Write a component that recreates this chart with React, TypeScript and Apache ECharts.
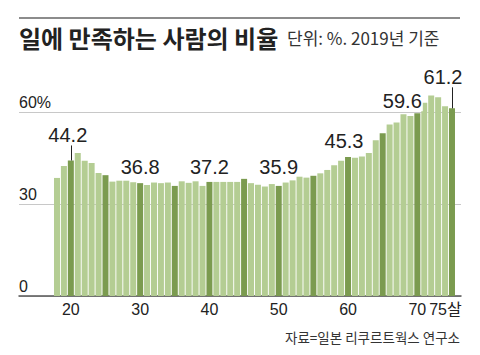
import React, { useEffect, useRef } from "react";
import * as echarts from "echarts";

const ages = [
  18, 19, 20, 21, 22, 23, 24, 25, 26, 27, 28, 29, 30, 31, 32, 33, 34, 35, 36, 37,
  38, 39, 40, 41, 42, 43, 44, 45, 46, 47, 48, 49, 50, 51, 52, 53, 54, 55, 56, 57,
  58, 59, 60, 61, 62, 63, 64, 65, 66, 67, 68, 69, 70, 71, 72, 73, 74, 75,
];
const values = [
  38.5, 42.4, 44.2, 46.6, 44.1, 43.4, 40.1, 39.4, 37.3, 37.6, 37.6, 37.1, 36.8, 36.2, 37.0, 36.8, 37.0, 35.9, 37.4, 36.9,
  37.4, 35.9, 37.2, 37.2, 37.2, 37.2, 37.2, 38.2, 36.8, 36.3, 35.7, 36.5, 35.9, 37.0, 37.7, 38.9, 38.6, 39.2, 40.0, 41.1,
  42.6, 44.1, 45.3, 45.1, 45.5, 46.6, 50.8, 53.1, 55.9, 56.6, 59.3, 58.7, 59.6, 63.0, 65.4, 64.8, 61.9, 61.2,
];
const highlightAges = [20, 25, 30, 35, 40, 45, 50, 55, 60, 65, 70, 75];
const labeledAges = [20, 30, 40, 50, 60, 70, 75];
const tickedAges = [20, 75];
const xTickValues = [20, 30, 40, 50, 60, 70, 75];
const yTickLabels = ["0", "30", "60%"];

const titleText = "일에 만족하는 사람의 비율";
const subtitleText = "단위: %. 2019년 기준";
const sourceText = "자료=일본 리쿠르트웍스 연구소";

const LIGHT = "#b4cd93";
const DARK = "#7b9b4f";
const TEXT = "#222";
const LATIN = "'Liberation Sans', Arial, 'Noto Sans CJK KR', sans-serif";
const KR = "'Noto Sans CJK KR', 'Liberation Sans', sans-serif";

const Y_MAX = 90;
const GRID_TOP = 20;
const GRID_BOTTOM = 59;
const PLOT_H = 355 - GRID_TOP - GRID_BOTTOM;
const PX_PER_UNIT = PLOT_H / Y_MAX;

// label placement styles per labeled age (distance above bar, horizontal shift)
const labelStyle: Record<number, { distance: number; dx: number }> = {
  20: { distance: 15, dx: -3 },
  30: { distance: 6, dx: 0 },
  40: { distance: 5, dx: 0 },
  50: { distance: 9, dx: 0 },
  60: { distance: 6, dx: -4 },
  70: { distance: 2, dx: -15 },
  75: { distance: 21, dx: -9 },
};

export default function App() {
  const ref = useRef<HTMLDivElement>(null);
  useEffect(() => {
    if (!ref.current) return;
    const chart = echarts.init(ref.current, undefined, { renderer: "svg" });

    const data = ages.map((a, i) => {
      const item: any = {
        value: [a, values[i]],
        itemStyle: { color: highlightAges.includes(a) ? DARK : LIGHT },
      };
      if (labeledAges.includes(a)) {
        const s = labelStyle[a];
        item.label = {
          show: true,
          position: "top",
          distance: s.distance,
          offset: [s.dx, 0],
          backgroundColor: a === 70 ? "#fff" : "transparent",
          padding: a === 70 ? [0, 1, 0, 1] : 0,
        };
      }
      return item;
    });

    const tickLines = tickedAges.map((a) => {
      const v = values[ages.indexOf(a)];
      const d = labelStyle[a].distance;
      return [{ coord: [a, v] }, { coord: [a, v + d / PX_PER_UNIT] }];
    });

    chart.setOption({
      animation: false,
      backgroundColor: "#fff",
      grid: {
        left: 19,
        right: 19,
        top: GRID_TOP,
        bottom: GRID_BOTTOM,
        containLabel: false,
        outerBoundsMode: "none",
      },
      xAxis: {
        type: "value",
        min: 12.52,
        max: 76.3,
        splitLine: { show: false },
        axisTick: { show: false },
        axisLine: { show: true, lineStyle: { color: "#555", width: 1.5 } },
        axisLabel: {
          customValues: xTickValues,
          margin: 5,
          color: TEXT,
          fontSize: 16,
          fontFamily: LATIN,
          formatter: (v: number) => (v === 75 ? "{a|75살}" : String(v)),
          rich: {
            a: {
              fontSize: 16,
              fontFamily: LATIN,
              color: TEXT,
              padding: [0, 13, 0, 0],
            },
          },
        },
      },
      yAxis: {
        type: "value",
        min: 0,
        max: Y_MAX,
        interval: 30,
        axisLine: { show: false },
        axisTick: { show: false },
        splitLine: {
          show: true,
          lineStyle: {
            color: ["#c8c8c8", "#c8c8c8", "#c8c8c8", "rgba(0,0,0,0)"],
            width: 1,
          },
        },
        axisLabel: {
          inside: true,
          align: "left",
          verticalAlign: "bottom",
          margin: 0,
          padding: [0, 0, 2, 0],
          color: TEXT,
          fontSize: 16,
          fontFamily: LATIN,
          formatter: (v: number) => {
            const idx = v / 30;
            return yTickLabels[idx] ?? "";
          },
        },
      },
      series: [
        {
          type: "bar",
          barWidth: 6,
          data,
          label: {
            show: false,
            color: TEXT,
            fontSize: 20,
            fontFamily: LATIN,
            formatter: (p: any) => Number(p.value[1]).toFixed(1),
          },
          markLine: {
            silent: true,
            symbol: ["none", "none"],
            label: { show: false },
            lineStyle: { color: TEXT, width: 1, type: "solid" },
            data: tickLines,
          },
        },
      ],
      graphic: [
        {
          type: "line",
          shape: { x1: 19, y1: 18, x2: 460, y2: 18 },
          style: { stroke: "#666", lineWidth: 1.5 },
        },
        {
          type: "text",
          left: 19,
          top: 25,
          style: {
            text: titleText,
            fontSize: 24,
            fontWeight: "bold",
            fontFamily: KR,
            fill: TEXT,
          },
        },
        {
          type: "text",
          left: 287,
          top: 29,
          style: {
            text: subtitleText,
            fontSize: 17,
            fontFamily: KR,
            fill: "#333",
          },
        },
        {
          type: "text",
          right: 20,
          top: 330,
          style: {
            text: sourceText,
            fontSize: 13.5,
            fontFamily: KR,
            fill: "#333",
          },
        },
      ],
    });
    return () => chart.dispose();
  }, []);
  return (
    <div
      ref={ref}
      style={{ position: "fixed", left: 0, top: 0, width: 480, height: 355, background: "#fff" }}
    />
  );
}
